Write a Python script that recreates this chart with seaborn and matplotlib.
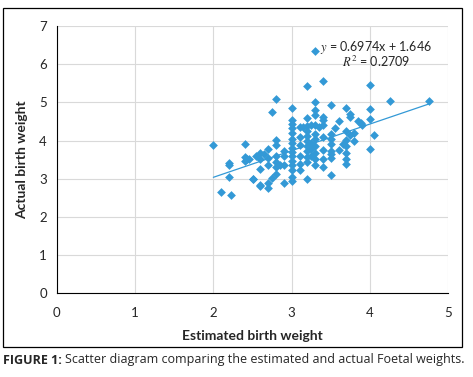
import numpy as np
import pandas as pd
import matplotlib
matplotlib.use('Agg')
import matplotlib.pyplot as plt
import seaborn as sns

# estimated (x) and actual (y) birth weights
estimated = [3.30, 3.40, 3.20, 4.00, 2.80, 3.30, 3.50, 4.25, 4.75, 3.00,
             2.75, 3.30, 3.69, 4.00, 3.30, 3.20, 3.40, 3.74, 3.75, 3.00,
             4.00, 3.10, 3.15, 3.20, 3.25, 3.30, 3.35, 3.40, 3.40, 3.60,
             3.85, 3.88, 3.90, 3.00, 3.00, 3.00, 3.00, 3.00, 3.00, 3.00,
             3.00, 3.00, 3.00, 3.00, 3.00, 3.10, 3.10, 3.10, 3.10, 3.10,
             3.20, 3.20, 3.20, 3.20, 3.20, 3.20, 3.20, 3.20, 3.25, 3.25,
             3.25, 3.30, 3.30, 3.30, 3.30, 3.30, 3.30, 3.40, 3.40, 3.40,
             3.40, 3.50, 3.50, 3.50, 3.50, 3.50, 3.50, 3.55, 3.60, 3.69,
             3.69, 3.69, 3.69, 3.69, 3.69, 3.74, 3.79, 3.79, 3.65, 4.00,
             4.05, 2.90, 2.90, 2.90, 2.80, 2.80, 2.80, 2.80, 2.80, 2.80,
             2.70, 2.70, 2.70, 2.70, 2.70, 2.60, 2.64, 2.60, 2.60, 2.60,
             2.60, 2.50, 2.40, 2.40, 2.43, 2.46, 2.40, 2.20, 2.20, 2.20,
             2.00, 2.10, 2.23, 2.85, 2.75, 2.55, 2.90, 3.00, 3.50, 2.50]
actual = [6.34, 5.57, 5.42, 5.46, 5.10, 5.00, 4.93, 5.03, 5.05, 4.86,
          4.75, 4.81, 4.85, 4.83, 4.66, 4.59, 4.63, 4.69, 4.63, 4.54,
          4.57, 4.37, 4.37, 4.39, 4.42, 4.42, 4.37, 4.54, 4.42, 4.51,
          4.52, 4.46, 4.42, 4.44, 4.33, 4.19, 4.05, 3.93, 3.82, 3.69,
          3.59, 3.47, 3.35, 3.24, 2.95, 4.10, 3.88, 3.60, 3.40, 3.24,
          4.25, 4.11, 3.99, 3.85, 3.72, 3.58, 3.44, 3.00, 3.95, 3.77,
          3.60, 4.18, 4.04, 3.86, 3.68, 3.53, 3.35, 4.10, 3.75, 3.51,
          3.32, 4.17, 4.04, 3.90, 3.73, 3.54, 3.11, 4.34, 3.75, 4.25,
          4.02, 3.86, 3.68, 3.51, 3.40, 4.14, 4.21, 3.98, 3.90, 3.78,
          4.14, 3.73, 3.60, 3.37, 4.02, 3.88, 3.61, 3.44, 3.30, 3.14,
          3.79, 3.55, 3.35, 2.89, 2.75, 3.67, 3.65, 3.51, 3.25, 2.84,
          2.81, 3.00, 3.92, 3.58, 3.51, 3.51, 3.47, 3.42, 3.37, 3.05,
          3.89, 2.66, 2.59, 3.35, 3.02, 3.61, 2.90, 3.05, 3.65, 2.99]

slope = 0.6974
intercept = 1.646
r_squared = 0.2709

df = pd.DataFrame({'estimated': estimated, 'actual': actual})

sns.set_style('white')
plt.rcParams['font.family'] = ['Lato', 'DejaVu Sans']
plt.rcParams['mathtext.fontset'] = 'stix'

fig = plt.figure(figsize=(4.73, 3.77), dpi=100)
ax = fig.add_axes([0.1199, 0.2215, 0.828, 0.7095])

blue = '#3399D6'
sns.scatterplot(data=df, x='estimated', y='actual', marker='D', s=20,
                color=blue, edgecolor=blue, linewidth=0, ax=ax, zorder=3)

# trend line
xs = np.array([df['estimated'].min(), df['estimated'].max()])
ax.plot(xs, slope * xs + intercept, color=blue, lw=0.9, zorder=2)

ax.text(4.08, 6.45, r'$y$ = %.4f' % slope + 'x + %.3f' % intercept,
        ha='center', va='center', fontsize=9)
ax.text(4.08, 6.06, r'$R^2$ = %.4f' % r_squared, ha='center', va='center',
        fontsize=9)

ax.set_xlim(0, 5)
ax.set_ylim(0, 7)
ax.set_xticks(range(0, 6))
ax.set_yticks(range(0, 8))
ax.grid(True, color='#d9d9d9', lw=0.8)
ax.set_axisbelow(True)
for side in ['top', 'right']:
    ax.spines[side].set_visible(False)
for side in ['left', 'bottom']:
    ax.spines[side].set_color('black')
    ax.spines[side].set_linewidth(0.8)
ax.tick_params(axis='both', direction='out', length=4, width=0.8,
               color='black', labelsize=9.5, pad=3)
ax.tick_params(axis='x', pad=6)
ax.set_xlabel('Estimated birth weight', fontsize=10, fontweight='bold',
              labelpad=8)
ax.set_ylabel('Actual birth weight', fontsize=10, fontweight='bold',
              labelpad=8)

# outer frame around the chart
frame = plt.Rectangle((3 / 473, 1 - 347 / 377), 459 / 473, 339 / 377,
                      transform=fig.transFigure, fill=False,
                      edgecolor='black', lw=0.9)
fig.patches.append(frame)

# caption
t1 = fig.text(3 / 473, 1 - 360 / 377, 'FIGURE 1:', fontsize=9,
              fontweight='bold', va='center', family=['Open Sans', 'DejaVu Sans'])
fig.canvas.draw()
bb = t1.get_window_extent()
fig.text(bb.x1 / fig.bbox.width + 0.006, 1 - 360 / 377,
         'Scatter diagram comparing the estimated and actual Foetal weights.',
         fontsize=9, va='center', family=['Open Sans', 'DejaVu Sans'])

fig.savefig('out.png', dpi=100)
